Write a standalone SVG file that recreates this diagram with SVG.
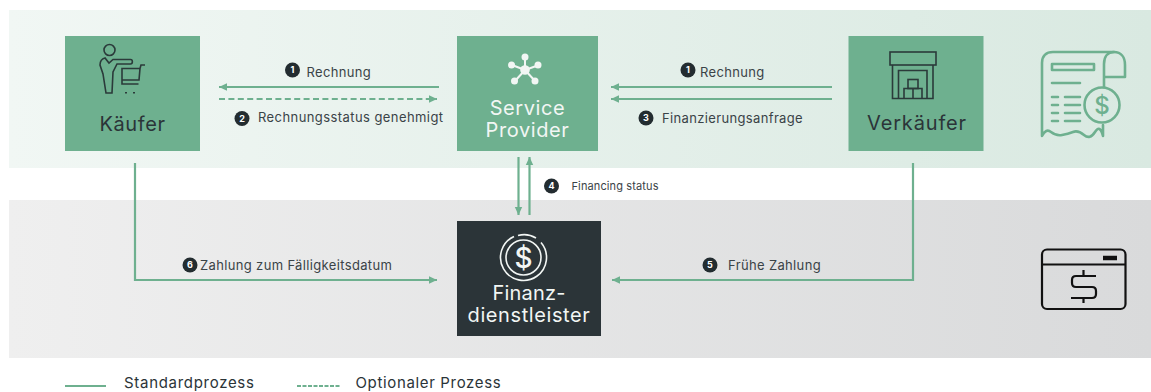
<svg xmlns="http://www.w3.org/2000/svg" width="1151" height="392" viewBox="0 0 1151 392">
<style>
text{font-family:"Inter","Liberation Sans",sans-serif}
.node{font-size:20px;text-anchor:middle;letter-spacing:.6px}
.dark{fill:#2b3438}.white{fill:#f2f6f4}
.lbl{font-size:13px;fill:#3a4347;letter-spacing:.35px}
.num{font-size:9px;font-weight:700;fill:#fff;text-anchor:middle}
.bd{fill:#232c30}
.c{fill:none;stroke:#6eb08f;stroke-width:2.2}
.ic{fill:none;stroke:#2b3a3a;stroke-width:1.6}
.g{fill:none;stroke:#6eb08f;stroke-width:2.6;stroke-linejoin:round;stroke-linecap:round}
.w{fill:none;stroke:#f2f6f4;stroke-width:1.6}
.box{fill:#6eb08f}
</style>
<defs>
<linearGradient id="gr"><stop offset="0" stop-color="#f1f7f4"/><stop offset="1" stop-color="#d9e9e1"/></linearGradient>
<linearGradient id="gy"><stop offset="0" stop-color="#efefef"/><stop offset="1" stop-color="#d9dadb"/></linearGradient>
<marker id="a" markerUnits="userSpaceOnUse" markerWidth="9" markerHeight="9" refX="8" refY="4.5" orient="auto" viewBox="0 0 9 9"><path d="M0 .8L8 4.5L0 8.200z" fill="#6eb08f"/></marker>
</defs>
<g id="bands">
<rect x="9" y="10" width="1142" height="158" fill="url(#gr)"/>
<rect x="9" y="200" width="1142" height="158" fill="url(#gy)"/>
</g>
<g id="connectors">
<path class="c" d="M439 87H219" marker-end="url(#a)"/>
<path class="c" d="M219 99H437" stroke-dasharray="6 3.4" marker-end="url(#a)"/>
<path class="c" d="M832 87H611" marker-end="url(#a)"/>
<path class="c" d="M832 99H611" marker-end="url(#a)"/>
<path class="c" d="M518.500 157V215" marker-end="url(#a)"/>
<path class="c" d="M529.500 215V157" marker-end="url(#a)"/>
<path class="c" d="M135 163V280H437" marker-end="url(#a)"/>
<path class="c" d="M913 163V280H612" marker-end="url(#a)"/>
</g>
<g id="kaeufer">
<rect class="box" x="65" y="36" width="135" height="115"/>
<g class="ic">
<circle cx="109.500" cy="50" r="5.500"/>
<path d="M130.500 59.500H113L109 63L105 58C101 59 100 62 100 65L103 74L106 93H112L113 72L117 64H130.500C133 64 133 59.500 130.500 59.500"/>
<path d="M122 68.500H140L139 80H122ZM122 80V84H138.500M140 68.500L141 65H145"/>
<path d="M126 92V93.500M134 92V93.500" stroke-width="2"/>
</g>
<text class="node dark" x="132.500" y="130.500">Käufer</text>
</g>
<g id="service-provider">
<rect class="box" x="457" y="36" width="141" height="115"/>
<path d="M525 70L525 60M525 70L512 65M525 70L539 65M525 70L515 81M525 70L535 81" stroke="#f2f6f4" stroke-width="2"/>
<g fill="#f2f6f4"><circle cx="525" cy="70" r="4.800"/><circle cx="525" cy="57" r="3.500"/><circle cx="511.500" cy="65" r="3.500"/><circle cx="538" cy="65" r="3.500"/><circle cx="514.500" cy="81" r="3.500"/><circle cx="535" cy="81" r="3.500"/></g>
<text class="node white" x="527.500" y="115">Service</text>
<text class="node white" x="527.500" y="137">Provider</text>
</g>
<g id="verkaeufer">
<rect class="box" x="848.500" y="36" width="135" height="115"/>
<g class="ic">
<rect x="890" y="52" width="46" height="13"/>
<path d="M892.500 65V98.500H933V65"/>
<path d="M898.500 98.500V70.500H927V98.500"/>
<rect x="908" y="79.500" width="10" height="9"/>
<path d="M904 98.500V88.500H922V98.500M913 88.500V98.500"/>
</g>
<text class="node dark" x="917" y="130" style="letter-spacing:.85px">Verkäufer</text>
</g>
<g id="finanzdienstleister">
<rect x="457" y="221" width="144" height="115" fill="#2b3438"/>
<g class="w"><circle cx="523.500" cy="257.500" r="17.500"/><path d="M514 236.500A23 23 0 1 0 541 242.500" /><path d="M518 235.500A23 23 0 0 1 536 238"/></g>
<text x="523.500" y="267.500" font-size="28" font-weight="500" fill="#f2f6f4" text-anchor="middle">$</text>
<text class="node white" x="529" y="300" style="letter-spacing:.2px">Finanz-</text>
<text class="node white" x="529" y="322">dienstleister</text>
</g>
<g id="labels">
<circle class="bd" cx="292.500" cy="70" r="7.500"/><text class="num" x="292.500" y="73.200">1</text>
<text class="lbl" x="306.500" y="76.500">Rechnung</text>
<circle class="bd" cx="242" cy="118.500" r="7.500"/><text class="num" x="242" y="121.700">2</text>
<text class="lbl" x="258" y="122" style="letter-spacing:.42px">Rechnungsstatus genehmigt</text>
<circle class="bd" cx="688" cy="70" r="7.500"/><text class="num" x="688" y="73.200">1</text>
<text class="lbl" x="700" y="76.500">Rechnung</text>
<circle class="bd" cx="646" cy="118" r="7.500"/><text class="num" x="646" y="121.200">3</text>
<text class="lbl" x="662" y="123">Finanzierungsanfrage</text>
<circle class="bd" cx="551.500" cy="186" r="7.500"/><text class="num" x="551.500" y="189.200">4</text>
<text class="lbl" x="571.500" y="190" style="font-size:11px;letter-spacing:.12px">Financing status</text>
<circle class="bd" cx="710" cy="265" r="7.500"/><text class="num" x="710" y="268.200">5</text>
<text class="lbl" x="728" y="270">Frühe Zahlung</text>
<circle class="bd" cx="190" cy="265" r="7.500"/><text class="num" x="190" y="268.200">6</text>
<text class="lbl" x="200" y="270">Zahlung zum Fälligkeitsdatum</text>
</g>
<g id="invoice-icon" class="g">
<path d="M1114 52H1053C1046 52 1042 56 1042 63V136Q1046 128 1051 132T1062 135T1073 132T1084 135T1095 132T1103 136V125"/>
<path d="M1104 87V64C1104 56 1108 52 1114 52C1121 52 1125 57 1125 65V77H1104"/>
<rect x="1052" y="64" width="42" height="6"/>
<path d="M1052 83H1080M1052 97H1058M1065 97H1080M1052 105H1058M1065 105H1080M1052 113H1058M1065 113H1080M1052 121H1058M1065 121H1080"/>
<circle cx="1102" cy="105" r="17.500"/>
</g>
<text x="1102" y="113.500" font-size="24" font-weight="500" fill="#6eb08f" text-anchor="middle">$</text>
<g id="cash-icon" fill="none" stroke="#111" stroke-width="2.200">
<rect x="1042" y="249.500" width="83.500" height="59.500" rx="5"/>
<path d="M1042 264.500H1125.500"/>
<path d="M1103 258H1117" stroke-width="4.500"/>
<path d="M1096 276H1076Q1072 276 1072 280V283Q1072 287 1076 287H1092Q1096 287 1096 291V294Q1096 298 1092 298H1071M1083.500 270V276M1083.500 298V303"/>
</g>
<g id="legend">
<path d="M65 386H106" stroke="#6eb08f" stroke-width="1.800"/>
<path d="M297 386H340" stroke="#6eb08f" stroke-width="1.800" stroke-dasharray="4 1.500"/>
<text x="124" y="388" font-size="15" letter-spacing=".7" fill="#2b3438">Standardprozess</text>
<text x="355.500" y="388" font-size="15" letter-spacing=".65" fill="#2b3438">Optionaler Prozess</text>
</g>
</svg>
